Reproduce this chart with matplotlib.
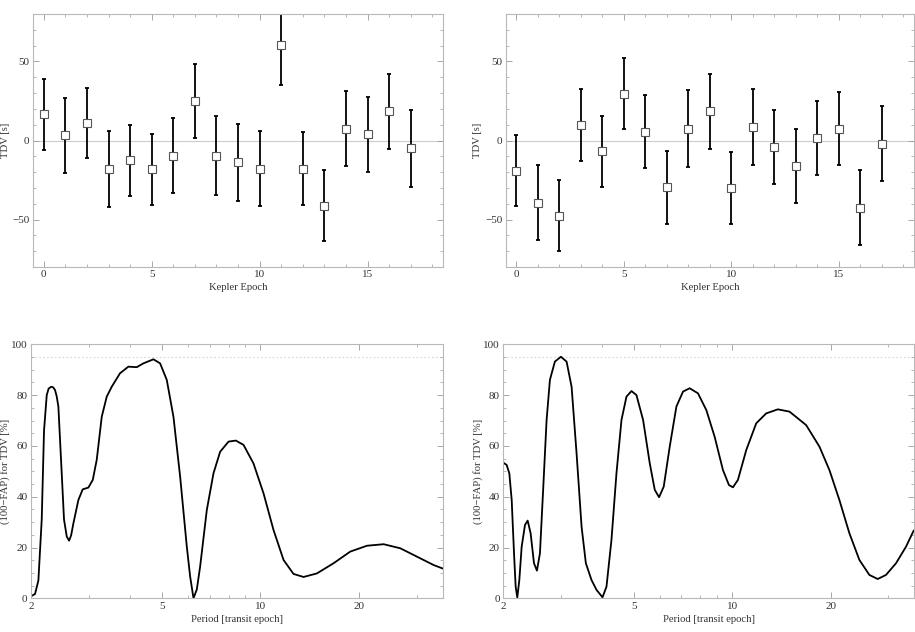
import numpy as np
import matplotlib
matplotlib.use("Agg")
import matplotlib.pyplot as plt
from matplotlib.ticker import MultipleLocator, FixedLocator, NullFormatter, FixedFormatter

plt.rcParams['font.family'] = ['Liberation Serif', 'DejaVu Serif']
plt.rcParams['font.size'] = 7.7

# ---------------- data ----------------
epochs = list(range(18))

tdv_left = [16.5, 3.2, 11.0, -18.1, -12.4, -18.1, -9.5, 24.9, -9.5, -13.7,
            -17.7, 60.3, -17.7, -41.1, 7.4, 4.0, 18.4, -4.9]
err_left = [22.5, 23.6, 22.0, 24.0, 22.5, 22.5, 23.5, 23.4, 24.8, 24.3,
            24.0, 25.0, 22.8, 22.4, 23.7, 23.6, 23.7, 24.3]

tdv_right = [-19.0, -39.2, -47.5, 9.9, -6.8, 29.7, 5.7, -29.7, 7.4, 18.4,
             -30.2, 8.4, -4.2, -15.8, 1.5, 7.6, -42.4, -1.9]
err_right = [22.6, 23.7, 22.6, 23.0, 22.3, 22.2, 23.2, 23.1, 24.4, 23.8,
             22.8, 24.0, 23.4, 23.4, 23.5, 23.2, 23.6, 23.8]

period_left = [2.000, 2.057, 2.106, 2.156, 2.191, 2.233, 2.262, 2.302, 2.335,
               2.367, 2.395, 2.423, 2.469, 2.521, 2.570, 2.612, 2.650, 2.692,
               2.788, 2.874, 2.991, 3.084, 3.171, 3.285, 3.402, 3.523, 3.734,
               3.959, 4.199, 4.400, 4.721, 4.947, 5.183, 5.432, 5.693, 5.966,
               6.108, 6.252, 6.400, 6.550, 6.865, 7.193, 7.537, 7.995, 8.415,
               8.881, 9.524, 10.22, 10.96, 11.76, 12.61, 13.53, 14.86, 16.70,
               18.78, 21.11, 23.73, 26.67, 29.98, 33.70, 35.98]
fap_left = [0.8, 1.7, 7.0, 31.0, 66.0, 80.0, 82.5, 83.3, 83.1, 82.0, 79.5,
            75.5, 54.5, 31.0, 24.3, 22.7, 24.8, 29.5, 38.7, 42.9, 43.6, 46.6,
            54.5, 71.5, 79.4, 83.3, 88.6, 91.2, 91.0, 92.5, 94.1, 92.5, 86.0,
            71.5, 47.9, 20.3, 8.5, 0.0, 3.5, 12.5, 34.8, 49.2, 57.7, 61.7,
            62.1, 60.4, 53.1, 41.3, 26.9, 15.1, 9.6, 8.4, 9.8, 13.8, 18.4,
            20.7, 21.3, 19.7, 16.4, 13.1, 11.7]

period_right = [2.000, 2.047, 2.086, 2.121, 2.156, 2.181, 2.206, 2.238, 2.275,
                2.329, 2.373, 2.423, 2.481, 2.533, 2.587, 2.649, 2.711, 2.775,
                2.874, 2.998, 3.120, 3.232, 3.347, 3.467, 3.573, 3.718, 3.852,
                4.017, 4.131, 4.278, 4.431, 4.590, 4.754, 4.924, 5.100, 5.344,
                5.601, 5.801, 5.979, 6.179, 6.444, 6.754, 7.077, 7.415, 7.861,
                8.337, 8.838, 9.370, 9.773, 10.05, 10.41, 11.04, 11.84, 12.70,
                13.78, 14.96, 16.82, 18.47, 19.81, 21.25, 22.80, 24.46, 26.24,
                27.82, 29.49, 31.64, 33.94, 35.81]
fap_right = [53.4, 52.5, 49.2, 38.7, 17.7, 4.6, 0.3, 7.2, 20.3, 28.9, 30.6,
             25.6, 13.8, 10.9, 17.7, 44.0, 70.2, 86.0, 93.2, 95.1, 93.2, 83.3,
             57.1, 28.2, 13.8, 7.2, 3.3, 0.4, 4.6, 23.0, 49.2, 70.2, 79.4,
             81.6, 80.0, 70.2, 53.1, 42.7, 39.8, 44.0, 59.7, 75.5, 81.4, 82.7,
             80.7, 74.1, 63.6, 50.5, 44.6, 43.7, 46.6, 58.4, 68.9, 72.8, 74.4,
             73.5, 68.2, 59.7, 50.5, 38.7, 25.6, 15.1, 9.2, 7.6, 9.2, 13.8,
             20.3, 26.6]

threshold = 95
period_ticks = [2, 5, 10, 20]
period_minor = [3, 4, 6, 7, 8, 9, 30]

# ---------------- styling ----------------
FRAME = '#b8b8b8'
TICKC = '#999999'
TXT = '#333333'

fig = plt.figure(figsize=(9.15, 6.32), dpi=100)

def style(ax):
    for s in ax.spines.values():
        s.set_color(FRAME)
        s.set_linewidth(0.8)
    ax.tick_params(which='both', direction='in', top=True, right=True,
                   color=TICKC, labelcolor=TXT, labelsize=8.0, pad=2.5)
    ax.tick_params(which='major', length=4, width=0.6)
    ax.tick_params(which='minor', length=2, width=0.5)

def tdv_panel(rect, vals, errs, ylx):
    ax = fig.add_axes(rect)
    style(ax)
    ax.axhline(0, color='#cccccc', lw=0.8, zorder=1)
    ax.errorbar(epochs, vals, yerr=errs, fmt='none', ecolor='black',
                elinewidth=1.3, capsize=1.6, capthick=1.3, zorder=2)
    ax.plot(epochs, vals, ls='none', marker='s', ms=5.5, mfc='white',
            mec='#555555', mew=0.8, zorder=3)
    ax.set_xlim(-0.5, 18.5)
    ax.set_ylim(-80, 80)
    ax.xaxis.set_major_locator(MultipleLocator(5))
    ax.xaxis.set_minor_locator(MultipleLocator(1))
    ax.yaxis.set_major_locator(FixedLocator([-50, 0, 50]))
    ax.yaxis.set_minor_locator(MultipleLocator(10))
    ax.set_xlabel('Kepler Epoch', color=TXT)
    ax.set_ylabel('TDV [s]', color=TXT)
    ax.xaxis.set_label_coords(0.5, -0.062)
    ax.yaxis.set_label_coords(ylx, 0.5)
    return ax

def fap_panel(rect, per, fap, ylx):
    ax = fig.add_axes(rect)
    style(ax)
    ax.set_xscale('log')
    ax.axhline(threshold, color='#d8d8d8', lw=0.8, ls=(0, (1.5, 2)), zorder=1)
    ax.plot(per, fap, color='black', lw=1.3, zorder=2, solid_joinstyle='round')
    ax.set_xlim(2, 36)
    ax.set_ylim(0, 100)
    ax.xaxis.set_major_locator(FixedLocator(period_ticks))
    ax.xaxis.set_minor_locator(FixedLocator(period_minor))
    ax.xaxis.set_major_formatter(FixedFormatter([str(t) for t in period_ticks]))
    ax.xaxis.set_minor_formatter(NullFormatter())
    ax.yaxis.set_major_locator(MultipleLocator(20))
    ax.yaxis.set_minor_locator(MultipleLocator(5))
    ax.set_xlabel('Period [transit epoch]', color=TXT)
    ax.set_ylabel('(100\u2212FAP) for TDV [%]', color=TXT)
    ax.xaxis.set_label_coords(0.5, -0.0655)
    ax.yaxis.set_label_coords(ylx, 0.5)
    return ax

tdv_panel([0.0361, 0.5775, 0.4481, 0.4003], tdv_left, err_left, -0.056)
tdv_panel([0.5527, 0.5775, 0.4462, 0.4003], tdv_right, err_right, -0.059)
fap_panel([0.0339, 0.0533, 0.4503, 0.4019], period_left, fap_left, -0.051)
fap_panel([0.5501, 0.0533, 0.4492, 0.4019], period_right, fap_right, -0.050)

fig.savefig('out.png', dpi=100)
